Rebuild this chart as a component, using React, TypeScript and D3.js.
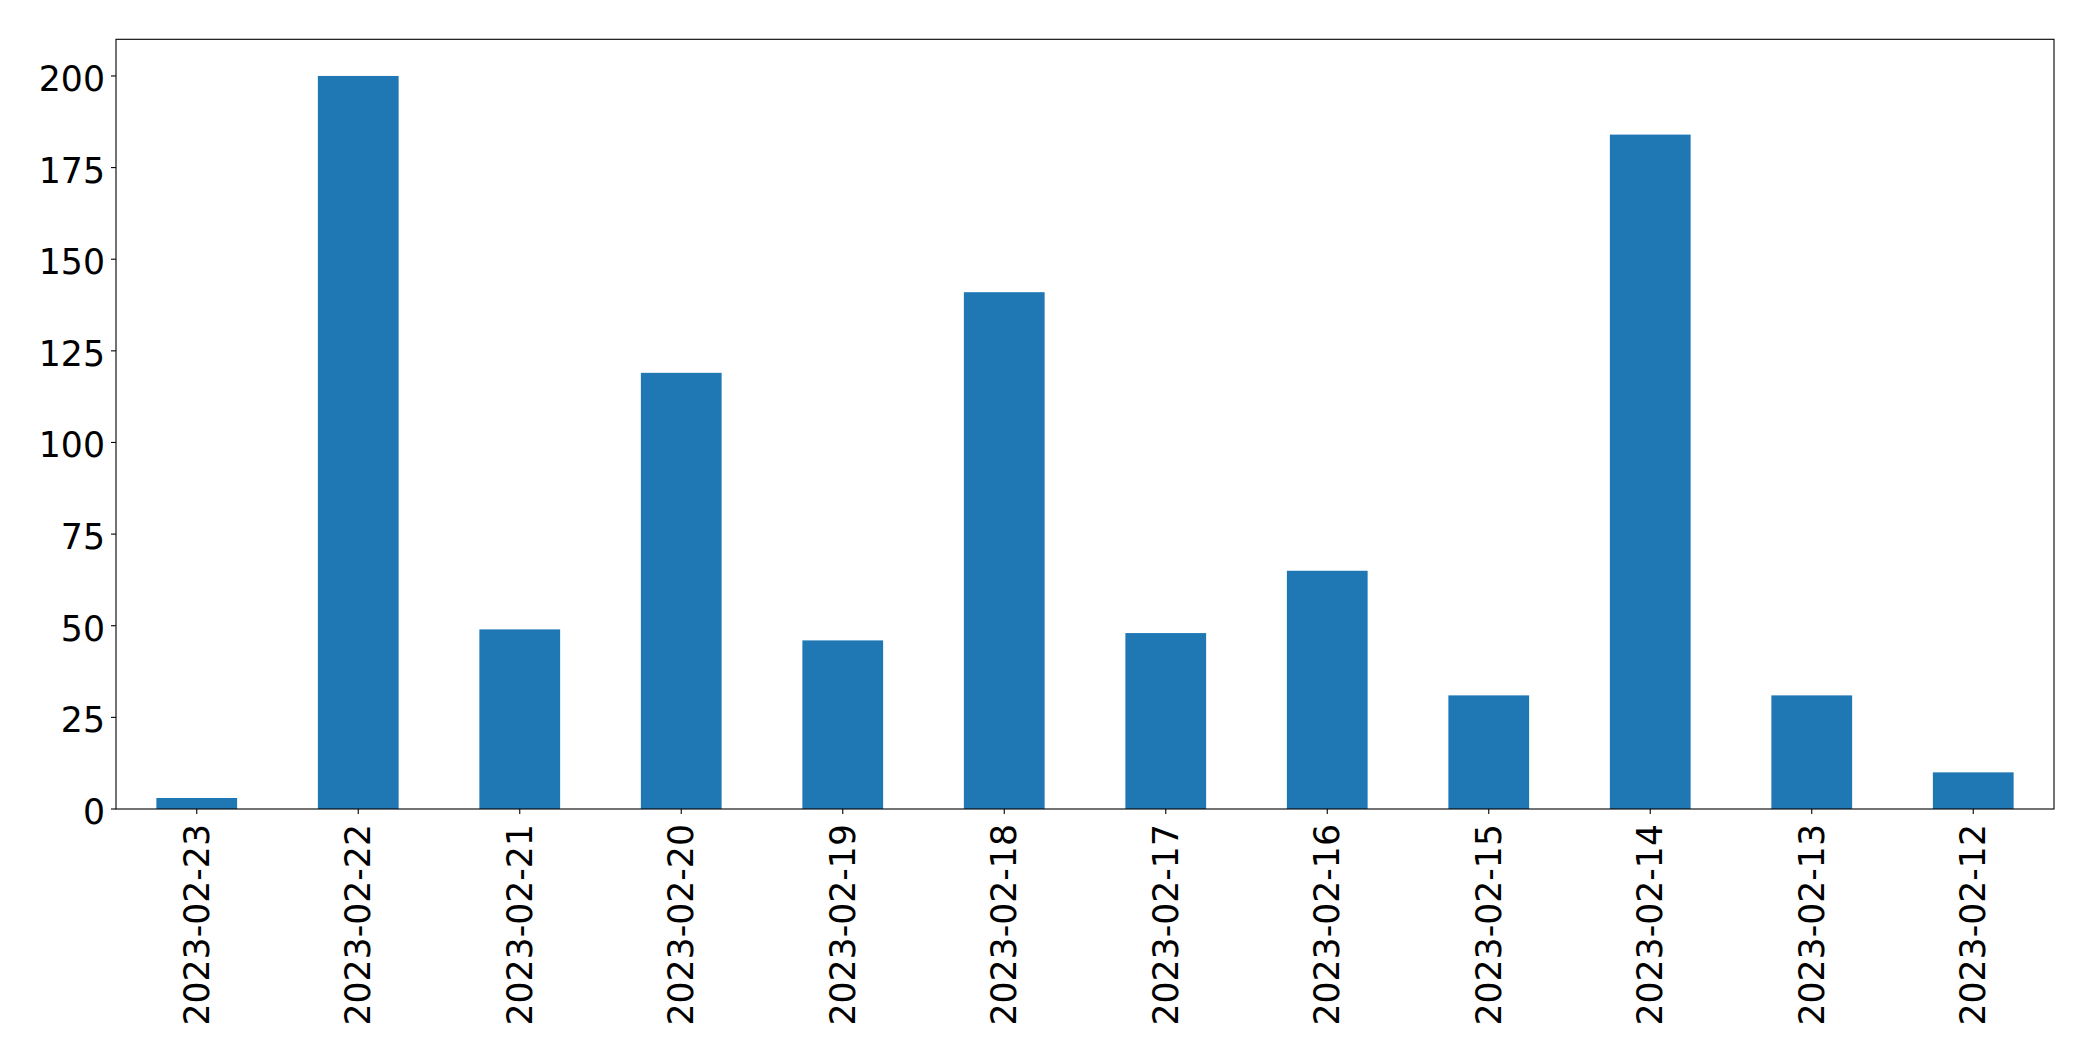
import React from "react";
import * as d3 from "d3";

const categories = [
  "2023-02-23", "2023-02-22", "2023-02-21", "2023-02-20", "2023-02-19", "2023-02-18",
  "2023-02-17", "2023-02-16", "2023-02-15", "2023-02-14", "2023-02-13", "2023-02-12",
];
const values = [3, 200, 49, 119, 46, 141, 48, 65, 31, 184, 31, 10];
const yTicks = [0, 25, 50, 75, 100, 125, 150, 175, 200];

const W = 2093;
const H = 1061;
const left = 116;
const right = 2054;
const top = 39.3;
const bottom = 809;
const font = "'DejaVu Sans', sans-serif";
const fs = 34.7;

export default function App() {
  const x = d3.scaleLinear().domain([-0.5, categories.length - 0.5]).range([left, right]);
  const y = d3.scaleLinear().domain([0, 210]).range([bottom, top]);
  const bw = x(0.25) - x(-0.25);
  return (
    <svg width={W} height={H} style={{ position: "absolute", left: 0, top: 0, background: "#fff" }}>
      {values.map((v, i) => (
        <rect key={i} x={x(i) - bw / 2} y={y(v)} width={bw} height={y(0) - y(v)} fill="#1f77b4" />
      ))}
      <rect x={left} y={top} width={right - left} height={bottom - top} fill="none" stroke="#000" strokeWidth={1.1} />
      {yTicks.map((t) => (
        <g key={t}>
          <line x1={left - 5} x2={left} y1={y(t)} y2={y(t)} stroke="#000" strokeWidth={1.1} />
          <text x={left - 11} y={y(t) + 3} textAnchor="end" dominantBaseline="central" fontFamily={font} fontSize={fs} fill="#000">
            {t}
          </text>
        </g>
      ))}
      {categories.map((c, i) => (
        <g key={c}>
          <line x1={x(i)} x2={x(i)} y1={bottom} y2={bottom + 5} stroke="#000" strokeWidth={1.1} />
          <text
            transform={`translate(${x(i)},${bottom + 15}) rotate(-90)`}
            textAnchor="end"
            dominantBaseline="central"
            fontFamily={font}
            fontSize={fs}
            fill="#000"
          >
            {c}
          </text>
        </g>
      ))}
    </svg>
  );
}
